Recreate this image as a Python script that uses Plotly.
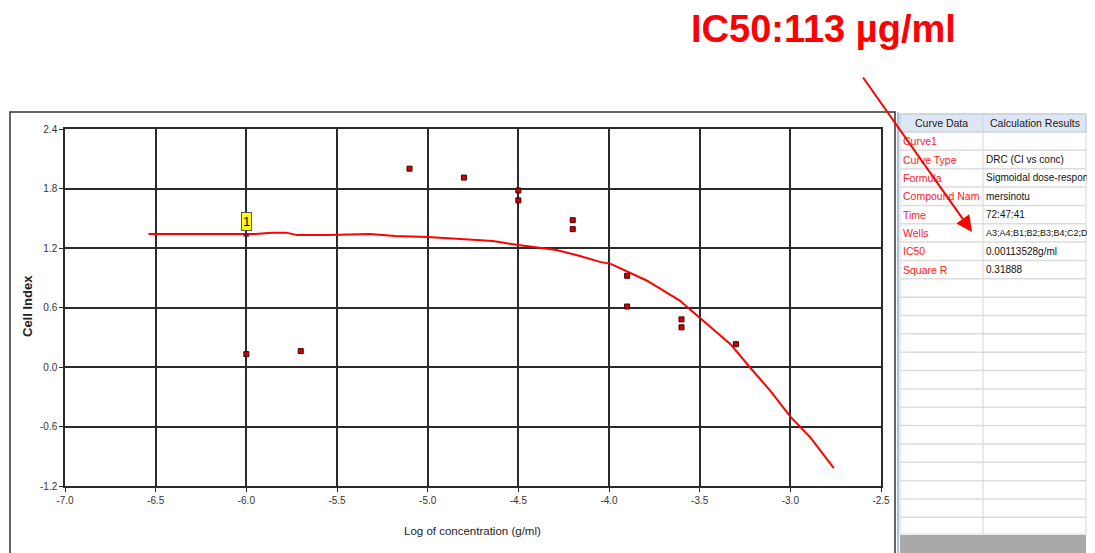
import plotly.graph_objects as go

# ---------------- data ----------------
pts_x = [-6.0, -5.7, -5.1, -4.8, -4.5, -4.5, -4.2, -4.2, -3.9, -3.9, -3.6, -3.6, -3.3]
pts_y = [0.13, 0.16, 2.00, 1.91, 1.78, 1.68, 1.48, 1.39, 0.92, 0.61, 0.48, 0.40, 0.23]

curve_x = [-6.54, -6.26, -6.05, -5.95, -5.86, -5.78, -5.72, -5.55, -5.32, -5.18, -5.00, -4.79, -4.64,
           -4.50, -4.29, -4.16, -4.05, -3.99, -3.79, -3.61, -3.50, -3.33, -3.22, -3.11, -3.00,
           -2.89, -2.76]
curve_y = [1.34, 1.34, 1.34, 1.34, 1.355, 1.355, 1.33, 1.33, 1.34, 1.32, 1.31, 1.29, 1.27,
           1.23, 1.18, 1.12, 1.06, 1.04, 0.87, 0.67, 0.50, 0.23, -0.01, -0.24, -0.50,
           -0.71, -1.02]

marker1_x = [-6.0]
marker1_y = [1.33]

x_ticks = [-7.0, -6.5, -6.0, -5.5, -5.0, -4.5, -4.0, -3.5, -3.0, -2.5]
x_tick_labels = ["-7.0", "-6.5", "-6.0", "-5.5", "-5.0", "-4.5", "-4.0", "-3.5", "-3.0", "-2.5"]
y_ticks = [2.4, 1.8, 1.2, 0.6, 0.0, -0.6, -1.2]
y_tick_labels = ["2.4", "1.8", "1.2", "0.6", "0.0", "-0.6", "-1.2"]

table_header = ["Curve Data", "Calculation Results"]
table_keys = ["Curve1", "Curve Type", "Formula", "Compound Nam", "Time", "Wells", "IC50", "Square R"]
table_vals = ["", "DRC (CI vs conc)", "Sigmoidal dose-respon", "mersinotu", "72:47:41",
              "A3;A4;B1;B2;B3;B4;C2;D", "0.00113528g/ml", "0.31888"]

title_text = "IC50:113 µg/ml"

# ---------------- layout geometry (page pixels; page has an 8px body margin) ----------------
OFF = 8
PW, PH = 1095, 553
W, H = PW - OFF, PH - OFF
L, R, T, B = 65, 881, 129, 486   # plot area in page pixels


def fx(px):
    return (px - L) / (R - L)


def fy(py):
    return (B - py) / (B - T)


FONT = "Liberation Sans, Arial, sans-serif"
GRID = "#2a2a2a"

fig = go.Figure()

fig.add_trace(go.Scatter(
    x=curve_x, y=curve_y, mode="lines",
    line=dict(color="#ff0000", width=2), hoverinfo="skip", showlegend=False))

fig.add_trace(go.Scatter(
    x=pts_x, y=pts_y, mode="markers",
    marker=dict(symbol="square", size=5, color="#d00000", line=dict(color="#3a0000", width=1)),
    showlegend=False))

fig.add_trace(go.Scatter(
    x=marker1_x, y=marker1_y, mode="markers",
    marker=dict(symbol="triangle-up", size=6, color="#5a1a4a"),
    showlegend=False))

shapes = []
annotations = []

# label "1" box above the marker
annotations.append(dict(
    x=marker1_x[0], y=marker1_y[0], xref="x", yref="y", text="1", showarrow=False,
    xanchor="center", yanchor="bottom", yshift=4,
    font=dict(family=FONT, size=13, color="#000"),
    bgcolor="#ffff00", bordercolor="#555", borderwidth=1, borderpad=1))

# chart panel frame
shapes.append(dict(type="rect", xref="paper", yref="paper",
                   x0=fx(10), x1=fx(895), y0=fy(570), y1=fy(112),
                   line=dict(color="#333", width=1.5), layer="below"))

# ---------------- side table ----------------
TX0, TX1, TC = 900, 1086, 983
HDR0, HDR1 = 114, 132
ROW_H = 18.35
n_rows = 22
table_bottom = 534

shapes.append(dict(type="rect", xref="paper", yref="paper",
                   x0=fx(TX0), x1=fx(TX1), y0=fy(table_bottom), y1=fy(HDR0),
                   fillcolor="#ffffff", line=dict(color="#d8d8d8", width=1), layer="below"))
# header
shapes.append(dict(type="rect", xref="paper", yref="paper",
                   x0=fx(TX0), x1=fx(TX1), y0=fy(HDR1), y1=fy(HDR0),
                   fillcolor="#dde6f2", line=dict(color="#b8c4d4", width=1)))
# left blue edge
shapes.append(dict(type="line", xref="paper", yref="paper",
                   x0=fx(898), x1=fx(898), y0=fy(560), y1=fy(112),
                   line=dict(color="#a9c0de", width=2)))
# column separator
shapes.append(dict(type="line", xref="paper", yref="paper",
                   x0=fx(TC), x1=fx(TC), y0=fy(table_bottom), y1=fy(HDR0),
                   line=dict(color="#d4d4d4", width=1)))
# row separators
for i in range(1, n_rows + 1):
    yy = HDR1 + i * ROW_H
    if yy > table_bottom:
        break
    shapes.append(dict(type="line", xref="paper", yref="paper",
                       x0=fx(TX0), x1=fx(TX1), y0=fy(yy), y1=fy(yy),
                       line=dict(color="#dcdcdc", width=1.5)))
# gray bottom bar
shapes.append(dict(type="rect", xref="paper", yref="paper",
                   x0=fx(TX0), x1=fx(TX1), y0=fy(553), y1=fy(535),
                   fillcolor="#a9a9a9", line=dict(width=0)))

annotations.append(dict(x=fx((TX0 + TC) / 2), y=fy((HDR0 + HDR1) / 2), xref="paper", yref="paper",
                        text=table_header[0], showarrow=False, xanchor="center", yanchor="middle",
                        font=dict(family=FONT, size=10.5, color="#1a1a1a")))
annotations.append(dict(x=fx((TC + TX1) / 2), y=fy((HDR0 + HDR1) / 2), xref="paper", yref="paper",
                        text=table_header[1], showarrow=False, xanchor="center", yanchor="middle",
                        font=dict(family=FONT, size=10.5, color="#1a1a1a")))
for i, (k, v) in enumerate(zip(table_keys, table_vals)):
    yc = HDR1 + (i + 0.5) * ROW_H
    annotations.append(dict(x=fx(TX0 + 1), y=fy(yc), xref="paper", yref="paper",
                            text=k, showarrow=False, xanchor="left", yanchor="middle",
                            font=dict(family=FONT, size=10.5, color="#ff2020")))
    if v:
        fs = 9 if len(v) > 21 else 10
        annotations.append(dict(x=fx(TC + 1), y=fy(yc), xref="paper", yref="paper",
                                text=v, showarrow=False, xanchor="left", yanchor="middle",
                                font=dict(family=FONT, size=fs, color="#111")))

# big title and arrow
annotations.append(dict(x=fx(823), y=fy(29), xref="paper", yref="paper",
                        text="<b>" + title_text + "</b>", showarrow=False,
                        xanchor="center", yanchor="middle",
                        font=dict(family=FONT, size=38, color="#ff0000")))
annotations.append(dict(x=fx(972), y=fy(232), ax=862 - 972, ay=76 - 232,
                        xref="paper", yref="paper", axref="pixel", ayref="pixel",
                        text="", showarrow=True, arrowhead=2, arrowsize=1.6, arrowwidth=2,
                        arrowcolor="#ff0000"))

# axis titles
annotations.append(dict(x=fx(472), y=fy(531), xref="paper", yref="paper",
                        text="Log of concentration (g/ml)", showarrow=False,
                        xanchor="center", yanchor="middle",
                        font=dict(family=FONT, size=11.5, color="#222")))
annotations.append(dict(x=fx(27), y=fy(306), xref="paper", yref="paper",
                        text="<b>Cell Index</b>", showarrow=False, textangle=-90,
                        xanchor="center", yanchor="middle",
                        font=dict(family=FONT, size=13, color="#222")))

fig.update_layout(
    width=W, height=H,
    margin=dict(l=L - OFF, r=PW - R, t=T - OFF, b=PH - B, pad=0),
    paper_bgcolor="#ffffff", plot_bgcolor="#ffffff",
    shapes=shapes, annotations=annotations,
    xaxis=dict(range=[-7.0, -2.5], tickvals=x_ticks, ticktext=x_tick_labels,
               showgrid=True, gridcolor=GRID, gridwidth=1.5, zeroline=False,
               showline=True, mirror=True, linecolor=GRID, linewidth=1.5,
               ticks="outside", ticklen=4, tickcolor=GRID, tickwidth=1,
               tickfont=dict(family=FONT, size=10, color="#333"), automargin=False),
    yaxis=dict(range=[-1.2, 2.4], tickvals=y_ticks, ticktext=y_tick_labels,
               showgrid=True, gridcolor=GRID, gridwidth=1.5, zeroline=False,
               showline=True, mirror=True, linecolor=GRID, linewidth=1.5,
               ticks="outside", ticklen=4, tickcolor=GRID, tickwidth=1,
               tickfont=dict(family=FONT, size=10, color="#333"), automargin=False),
)

fig.write_html("out.html")
